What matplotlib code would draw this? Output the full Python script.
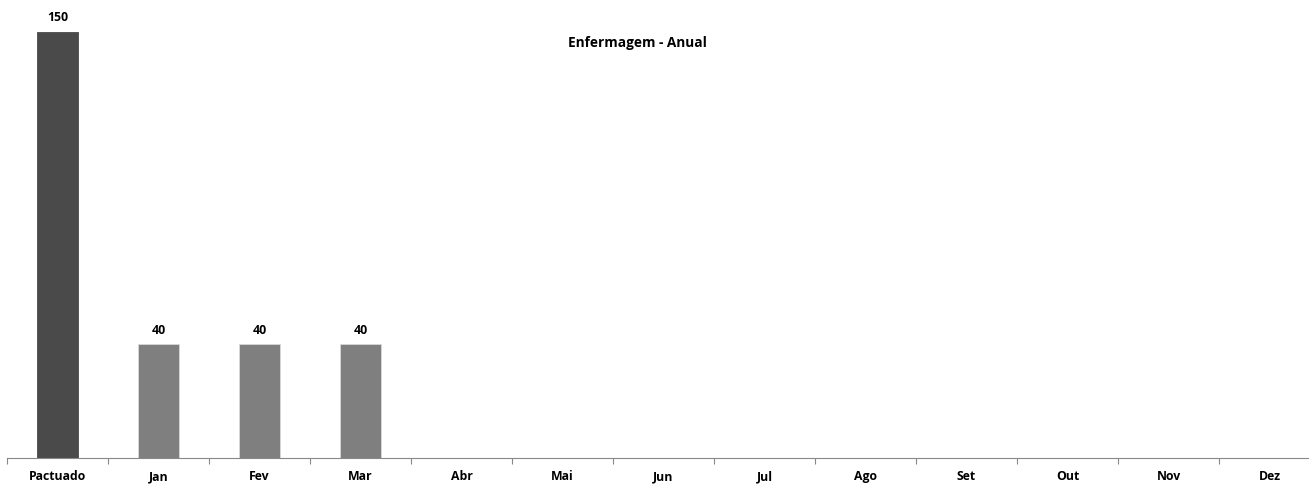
import matplotlib.pyplot as plt
import numpy as np

categories = ["Pactuado", "Jan", "Fev", "Mar", "Abr", "Mai", "Jun",
              "Jul", "Ago", "Set", "Out", "Nov", "Dez"]
values = [150, 40, 40, 40, None, None, None, None, None, None, None, None, None]
title = "Enfermagem - Anual"

W, H = 1309, 485
fig = plt.figure(figsize=(W / 100, H / 100), dpi=100)
# axis runs a bit past the right edge, as in the reference
x0, x1 = 7, 1320
ax = fig.add_axes([x0 / W, 26 / H, (x1 - x0) / W, 454.4 / H])

x = np.arange(len(categories))
for i, v in enumerate(values):
    if v is None:
        continue
    col = "#4a4a4a" if i == 0 else "#7f7f7f"
    ax.bar(x[i], v, width=0.41, color=col, edgecolor="#d9d9d9" if i else col, linewidth=0.6)
    ax.text(x[i], v + 3, str(v), ha="center", va="bottom", fontsize=8.8,
            fontweight="bold", family="Open Sans")

ax.set_xlim(-0.5, len(categories) - 0.5)
ax.set_ylim(0, 160)
ax.set_xticks(x)
ax.set_xticklabels(categories, fontsize=8.8, fontweight="bold", family="Open Sans")
ax.tick_params(axis="x", which="major", length=0, pad=8)
ax.set_xticks(np.arange(-0.5, len(categories), 1), minor=True)
ax.tick_params(axis="x", which="minor", length=4, color="#888888", width=0.8)
ax.set_yticks([])
for s in ["top", "right", "left"]:
    ax.spines[s].set_visible(False)
ax.spines["bottom"].set_color("#888888")
ax.spines["bottom"].set_linewidth(0.8)

fig.text(637 / W, 1 - 43 / H, title, ha="center", va="center", fontsize=9.8,
         fontweight="bold", family="Open Sans")

fig.savefig("out.png", dpi=100)
